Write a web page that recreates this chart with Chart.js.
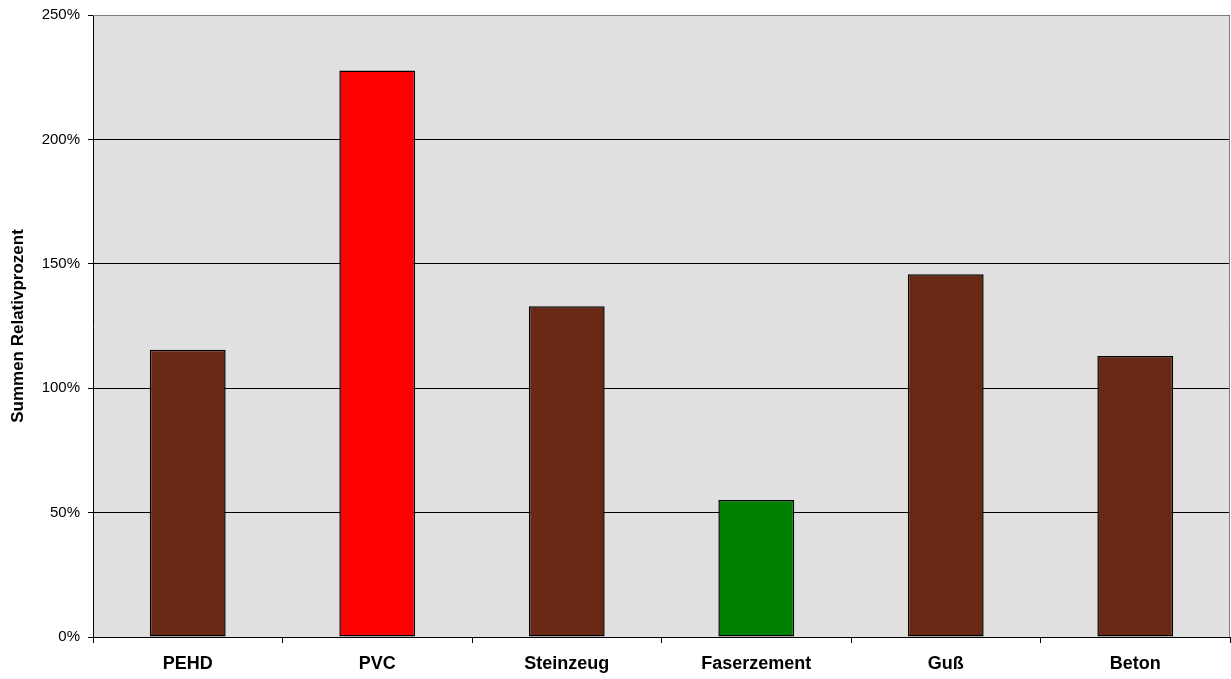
<!DOCTYPE html>
<html><head><meta charset="utf-8">
<script src="https://cdn.jsdelivr.net/npm/chart.js@4/dist/chart.umd.min.js"></script>
<style>html,body{margin:0;padding:0;background:#fff}#wrap{width:1231px;height:679px}</style>
</head><body><div id="wrap"><canvas id="c" width="1231" height="679"></canvas></div>
<script>
const categories = ["PEHD","PVC","Steinzeug","Faserzement","Guß","Beton"];
const values = [115.5, 227.7, 132.9, 55.1, 145.8, 112.9];
const barColors = ["#692814","#FF0000","#692814","#008000","#692814","#692814"];
const yTicks = [0,50,100,150,200,250];

const bgPlugin = {
  id:'bg',
  beforeDraw(chart){
    const {ctx, chartArea:a} = chart;
    ctx.save();
    ctx.fillStyle = '#e0e0e0';
    ctx.fillRect(a.left, a.top, a.right-a.left, a.bottom-a.top);
    ctx.restore();
  },
  afterDatasetsDraw(chart){
    const {ctx, chartArea:a} = chart;
    ctx.save();
    ctx.strokeStyle = '#808080';
    ctx.lineWidth = 1;
    ctx.beginPath();
    ctx.moveTo(a.left, a.top+0.5); ctx.lineTo(a.right-0.5, a.top+0.5); ctx.lineTo(a.right-0.5, a.bottom);
    ctx.stroke();
    ctx.restore();
  }
};

new Chart(document.getElementById('c'), {
  type:'bar',
  data:{labels:categories, datasets:[{data:values, backgroundColor:barColors, borderColor:'#000', borderWidth:1.5, borderSkipped:false, categoryPercentage:1, barPercentage:0.4}]},
  options:{
    responsive:false, animation:false, devicePixelRatio:1,
    layout:{padding:{top:15,right:1,left:0,bottom:0}},
    plugins:{legend:{display:false}, tooltip:{enabled:false}},
    scales:{
      x:{
        offset:true,
        grid:{offset:true, drawOnChartArea:false, drawTicks:true, tickLength:6, color:'#000', tickColor:'#000'},
        border:{display:true, color:'#000', width:1},
        ticks:{color:'#000', font:{family:'Liberation Sans, Arial', size:18, weight:'bold'}, padding:10},
        afterFit(s){ s.height = 42; s.paddingLeft = 0; s.paddingRight = 0; }
      },
      y:{
        min:0, max:250,
        afterBuildTicks(s){ s.ticks = yTicks.map(v=>({value:v})); },
        grid:{color:'#000', lineWidth:1, tickLength:5, tickColor:'#000', drawTicks:true},
        border:{display:true, color:'#000', width:1},
        ticks:{color:'#000', font:{family:'Liberation Sans, Arial', size:15}, padding:8, callback:v=>v+'%'},
        title:{display:true, text:'Summen Relativprozent', color:'#000', font:{family:'Liberation Sans, Arial', size:17, weight:'bold'}, padding:{top:8,bottom:0}},
        afterFit(s){ s.width = 93; s.paddingTop = 0; s.paddingBottom = 0; }
      }
    }
  },
  plugins:[bgPlugin]
});
</script></body></html>
